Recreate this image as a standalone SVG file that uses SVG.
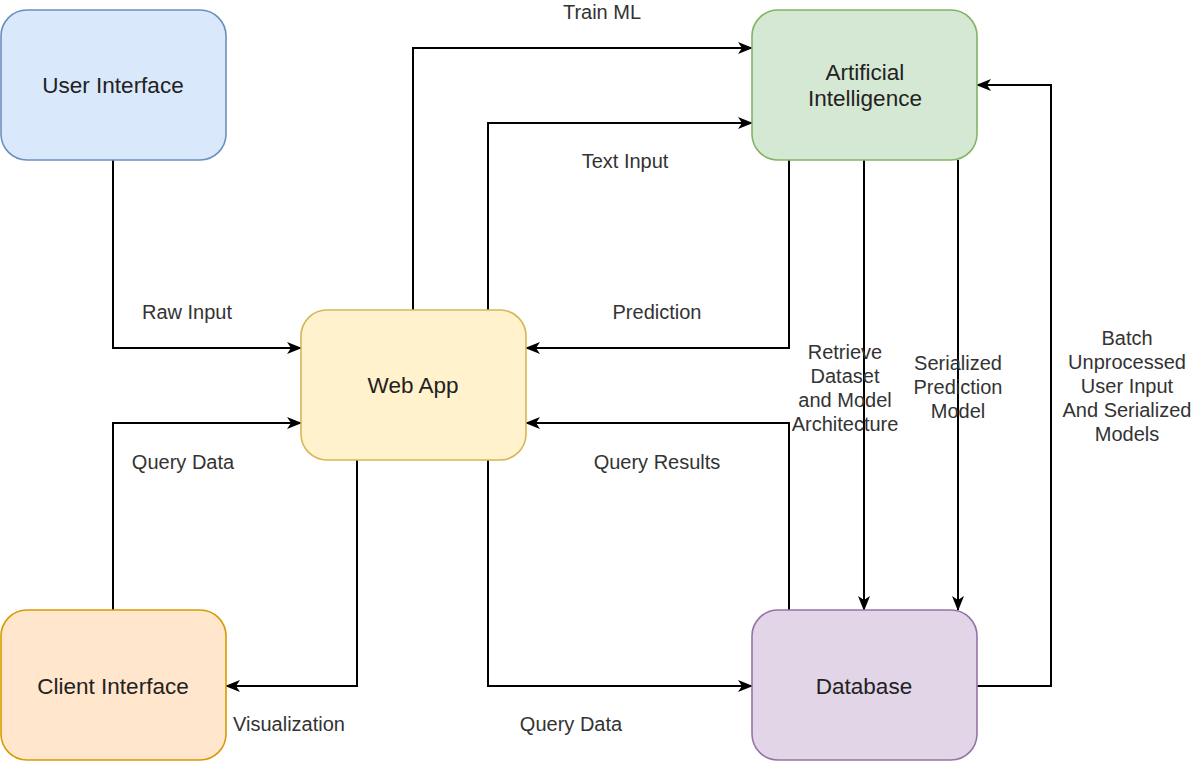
<svg xmlns="http://www.w3.org/2000/svg" width="1194" height="762" viewBox="0 0 1194 762">
<defs>
<marker id="arr" markerWidth="16" markerHeight="12" refX="14" refY="6" orient="auto" markerUnits="userSpaceOnUse">
<path d="M0,0 L15,6 L0,12 L4,6 Z" fill="#000"/>
</marker>
<style>
.node rect{stroke-width:1.6}
.nt{font-family:"Liberation Sans",Arial,sans-serif;font-size:22.5px;fill:#222;text-anchor:middle}
.lb{font-family:"Liberation Sans",Arial,sans-serif;font-size:20px;fill:#333;text-anchor:middle}
.edge{fill:none;stroke:#000;stroke-width:2;marker-end:url(#arr)}
</style>
</defs>
<rect width="1194" height="762" fill="#fff"/>
<g id="connectors">
<path class="edge" d="M113,160 V348 H301"/>
<path class="edge" d="M413,310 V48 H752"/>
<path class="edge" d="M488,310 V123 H752"/>
<path class="edge" d="M789,160 V348 H526"/>
<path class="edge" d="M864,160 V610"/>
<path class="edge" d="M958,160 V610"/>
<path class="edge" d="M977,686 H1051 V85 H977"/>
<path class="edge" d="M789,610 V423 H526"/>
<path class="edge" d="M488,460 V686 H752"/>
<path class="edge" d="M357,460 V686 H226"/>
<path class="edge" d="M113,610 V423 H301"/>
<text class="lb" x="187" y="319">Raw Input</text>
<text class="lb" x="602" y="19">Train ML</text>
<text class="lb" x="625" y="168">Text Input</text>
<text class="lb" x="657" y="319">Prediction</text>
<text class="lb" x="657" y="469">Query Results</text>
<text class="lb" x="183" y="469">Query Data</text>
<text class="lb" x="571" y="731">Query Data</text>
<text class="lb" x="289" y="731">Visualization</text>
<text class="lb" x="845" y="359">Retrieve</text>
<text class="lb" x="845" y="383">Dataset</text>
<text class="lb" x="845" y="407">and Model</text>
<text class="lb" x="845" y="431">Architecture</text>
<text class="lb" x="958" y="370">Serialized</text>
<text class="lb" x="958" y="394">Prediction</text>
<text class="lb" x="958" y="418">Model</text>
<text class="lb" x="1127" y="345">Batch</text>
<text class="lb" x="1127" y="369">Unprocessed</text>
<text class="lb" x="1127" y="393">User Input</text>
<text class="lb" x="1127" y="417">And Serialized</text>
<text class="lb" x="1127" y="441">Models</text>
</g>
<g id="user-interface" class="node">
<rect x="1" y="10" width="225" height="150" rx="26" fill="#dae8fc" stroke="#6c8ebf"/>
<text class="nt" x="113" y="93">User Interface</text>
</g>
<g id="artificial-intelligence" class="node">
<rect x="752" y="10" width="225" height="150" rx="26" fill="#d5e8d4" stroke="#82b366"/>
<text class="nt" x="865" y="80">Artificial</text>
<text class="nt" x="865" y="106">Intelligence</text>
</g>
<g id="web-app" class="node">
<rect x="301" y="310" width="225" height="150" rx="26" fill="#fff2cc" stroke="#d6b656"/>
<text class="nt" x="413" y="393">Web App</text>
</g>
<g id="client-interface" class="node">
<rect x="1" y="610" width="225" height="150" rx="26" fill="#ffe6cc" stroke="#d79b00"/>
<text class="nt" x="113" y="694">Client Interface</text>
</g>
<g id="database" class="node">
<rect x="752" y="610" width="225" height="150" rx="26" fill="#e1d5e7" stroke="#9673a6"/>
<text class="nt" x="864" y="694">Database</text>
</g>
</svg>
